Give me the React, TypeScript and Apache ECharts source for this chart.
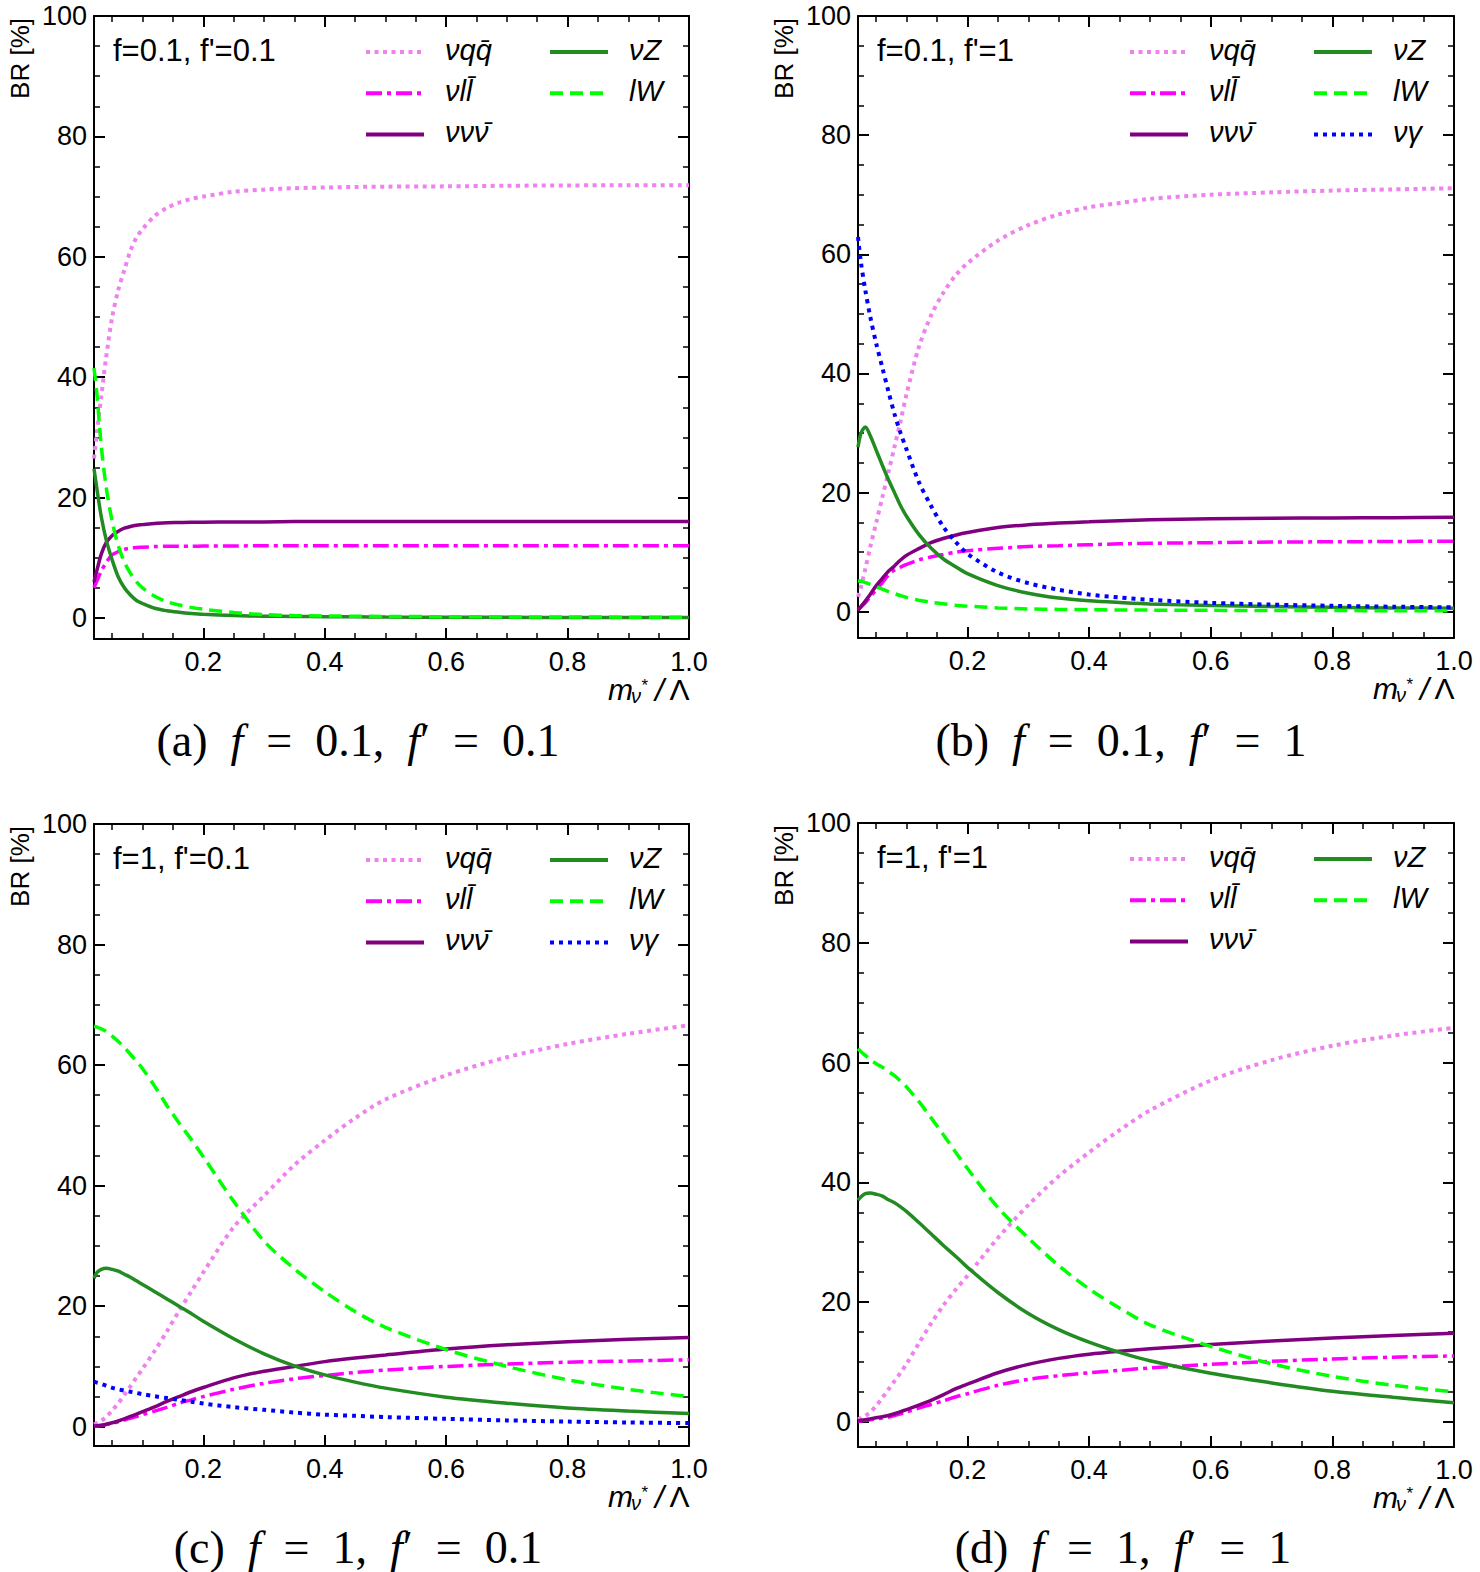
import React, { useEffect, useRef } from "react";
import * as echarts from "echarts";

// Heavy-neutrino mass over the compositeness scale
const MASS = [0.02, 0.025, 0.032, 0.04, 0.05, 0.06, 0.07, 0.08, 0.09, 0.1, 0.12, 0.14, 0.16, 0.18, 0.2, 0.25, 0.3, 0.35, 0.4, 0.45, 0.5, 0.6, 0.7, 0.8, 0.9, 1.0];

// (a) f = 0.1, f' = 0.1  — branching ratios in %
const A_NUQQ = [26.5, 31, 36.8, 43.3, 50.0, 54.5, 57.8, 61.0, 63.2, 64.6, 66.8, 68.1, 69.0, 69.6, 70.0, 70.8, 71.15, 71.4, 71.5, 71.6, 71.65, 71.7, 71.8, 71.85, 71.9, 71.9];
const A_NULL = [5.0, 6.2, 7.8, 9.2, 10.5, 11.0, 11.4, 11.6, 11.7, 11.75, 11.85, 11.9, 11.9, 11.9, 11.95, 11.95, 12, 12, 12, 12, 12, 12, 12, 12, 12, 12];
const A_NUNUNU = [6.0, 8.0, 10.6, 12.5, 13.7, 14.4, 14.9, 15.2, 15.4, 15.5, 15.7, 15.8, 15.85, 15.9, 15.9, 15.95, 15.95, 16, 16, 16, 16, 16, 16, 16, 16, 16];
const A_NUZ = [24.8, 21.3, 16.8, 13.0, 9.6, 6.8, 5.0, 3.8, 2.9, 2.4, 1.6, 1.2, 0.95, 0.75, 0.6, 0.4, 0.3, 0.25, 0.2, 0.18, 0.15, 0.12, 0.1, 0.08, 0.07, 0.06];
const A_LW = [41.5, 37.0, 28.5, 21.8, 16.0, 12.0, 9.3, 7.4, 6.0, 5.0, 3.6, 2.7, 2.15, 1.75, 1.45, 0.9, 0.55, 0.4, 0.33, 0.28, 0.25, 0.2, 0.17, 0.15, 0.13, 0.12];

// (b) f = 0.1, f' = 1
const B_NUQQ = [2.5, 4.2, 7.2, 10.8, 15.0, 19.2, 23.4, 27.7, 32.0, 36.6, 44.4, 49.7, 53.5, 56.4, 58.5, 62.3, 64.9, 66.7, 67.9, 68.6, 69.3, 70.0, 70.4, 70.7, 70.9, 71.1];
const B_NULL = [0.3, 0.8, 1.5, 2.5, 3.7, 4.9, 6.2, 7.0, 7.5, 7.95, 8.7, 9.2, 9.6, 10.0, 10.25, 10.65, 10.95, 11.1, 11.25, 11.4, 11.5, 11.6, 11.7, 11.75, 11.8, 11.85];
const B_NUNUNU = [0.3, 0.9, 1.8, 2.9, 4.4, 5.6, 6.8, 7.7, 8.7, 9.5, 10.6, 11.6, 12.3, 12.85, 13.3, 14.15, 14.6, 14.9, 15.1, 15.3, 15.45, 15.6, 15.7, 15.75, 15.8, 15.85];
const B_NUZ = [27.6, 30.0, 31.0, 29.6, 27.1, 24.6, 22.2, 20.0, 17.8, 16.0, 13.0, 10.7, 8.9, 7.6, 6.4, 4.4, 3.1, 2.3, 1.85, 1.55, 1.3, 1.05, 0.9, 0.75, 0.65, 0.6];
const B_LW = [5.2, 5.1, 4.9, 4.6, 4.2, 3.8, 3.4, 3.05, 2.7, 2.4, 1.95, 1.6, 1.35, 1.1, 0.95, 0.65, 0.48, 0.4, 0.35, 0.3, 0.28, 0.24, 0.22, 0.2, 0.19, 0.18];
const B_NUGAMMA = [62.9, 58.5, 54.0, 49.6, 45.0, 41.0, 37.0, 33.2, 30.0, 27.2, 21.8, 17.8, 14.3, 11.8, 9.75, 6.6, 4.8, 3.7, 2.9, 2.4, 2.0, 1.5, 1.2, 1.0, 0.85, 0.75];

// (c) f = 1, f' = 0.1
const C_NUQQ = [0.4, 0.6, 1.0, 1.6, 2.7, 3.9, 5.3, 6.7, 8.2, 9.6, 12.6, 15.8, 19.2, 22.4, 25.6, 33.1, 38.3, 43.4, 47.5, 51.2, 54.3, 58.3, 61.3, 63.5, 65.2, 66.6];
const C_NULL = [0.05, 0.1, 0.2, 0.35, 0.55, 0.8, 1.1, 1.4, 1.7, 2.0, 2.6, 3.2, 3.9, 4.45, 5.0, 6.2, 7.2, 7.95, 8.5, 9.0, 9.4, 10.0, 10.4, 10.7, 10.9, 11.1];
const C_NUNUNU = [0.1, 0.15, 0.25, 0.4, 0.65, 0.95, 1.3, 1.7, 2.1, 2.5, 3.3, 4.2, 5.0, 5.8, 6.5, 8.1, 9.2, 10.0, 10.8, 11.4, 11.9, 12.9, 13.6, 14.1, 14.5, 14.8];
const C_NUZ = [24.6, 25.6, 26.1, 26.3, 26.1, 25.8, 25.3, 24.8, 24.2, 23.6, 22.4, 21.2, 20.0, 18.8, 17.5, 14.6, 12.1, 10.1, 8.6, 7.4, 6.4, 4.9, 3.9, 3.1, 2.6, 2.2];
const C_LW = [66.4, 66.3, 66.0, 65.6, 64.8, 63.9, 62.9, 61.8, 60.6, 59.4, 56.5, 53.3, 50.4, 47.7, 44.8, 37.4, 30.8, 26.2, 22.4, 19.1, 16.5, 12.8, 10.0, 7.8, 6.2, 5.0];
const C_NUGAMMA = [7.5, 7.3, 7.1, 6.8, 6.45, 6.2, 6.0, 5.8, 5.6, 5.4, 5.05, 4.75, 4.45, 4.15, 3.85, 3.25, 2.8, 2.35, 2.0, 1.8, 1.6, 1.3, 1.05, 0.85, 0.7, 0.6];

// (d) f = 1, f' = 1
const D_NUQQ = [0.4, 0.65, 1.0, 1.6, 2.7, 4.0, 5.4, 6.8, 8.2, 9.7, 13.1, 16.4, 19.4, 22.0, 24.4, 30.7, 36.2, 41.0, 45.0, 48.7, 52.0, 57.0, 60.4, 62.8, 64.5, 65.8];
const D_NULL = [0.1, 0.15, 0.25, 0.35, 0.5, 0.65, 0.8, 1.05, 1.35, 1.65, 2.3, 2.9, 3.5, 4.15, 4.7, 6.1, 7.1, 7.7, 8.2, 8.6, 9.0, 9.6, 10.1, 10.5, 10.8, 11.0];
const D_NUNUNU = [0.2, 0.25, 0.35, 0.5, 0.7, 0.85, 1.05, 1.35, 1.7, 2.05, 2.8, 3.6, 4.5, 5.5, 6.3, 8.2, 9.6, 10.6, 11.3, 11.8, 12.2, 12.9, 13.5, 14.0, 14.4, 14.8];
const D_NUZ = [37.0, 37.6, 38.1, 38.2, 38.0, 37.7, 37.1, 36.6, 35.9, 35.1, 33.3, 31.4, 29.5, 27.7, 25.8, 21.6, 18.1, 15.4, 13.3, 11.6, 10.2, 8.1, 6.5, 5.1, 4.1, 3.2];
const D_LW = [62.3, 61.8, 61.2, 60.5, 59.8, 59.2, 58.5, 57.8, 56.9, 55.9, 53.5, 50.8, 48.0, 45.1, 42.3, 35.8, 30.7, 26.1, 22.2, 19.0, 16.2, 12.6, 9.7, 7.6, 6.1, 5.0];

// Axis ticks
const X_TICKS = [0.2, 0.4, 0.6, 0.8, 1.0];
const X_MINOR = [0.05, 0.1, 0.15, 0.25, 0.3, 0.35, 0.45, 0.5, 0.55, 0.65, 0.7, 0.75, 0.85, 0.9, 0.95];
const Y_TICKS = [0, 20, 40, 60, 80, 100];
const Y_MINOR = [5, 10, 15, 25, 30, 35, 45, 50, 55, 65, 70, 75, 85, 90, 95];

const SANS = "'Liberation Sans', Arial, Helvetica, sans-serif";
const SERIF = "'Liberation Serif', 'Times New Roman', serif";

type ChannelKey = "qq" | "ll" | "nn" | "z" | "w" | "g";

const CHANNELS: Record<ChannelKey, { name: string; color: string; width: number; dash: number[] | null }> = {
  qq: { name: "\u03bdqq\u0304", color: "#EE82EE", width: 4, dash: [4, 4.5] },
  ll: { name: "\u03bdll\u0304", color: "#FF00FF", width: 3.5, dash: [16, 5, 4, 5] },
  nn: { name: "\u03bd\u03bd\u03bd\u0304", color: "#800080", width: 3.5, dash: null },
  z: { name: "\u03bdZ", color: "#228B22", width: 3.5, dash: null },
  w: { name: "lW", color: "#00FF00", width: 3.5, dash: [13, 7] },
  g: { name: "\u03bd\u03b3", color: "#0000FF", width: 4, dash: [4, 5] },
};

type Panel = {
  left: number;
  top: number;
  width: number;
  height: number;
  yMin: number;
  tag: string;
  letter: string;
  fVal: string;
  fpVal: string;
  capX: number;
  capY: number;
  data: Partial<Record<ChannelKey, number[]>>;
  legend: ChannelKey[][];
};

const PANELS: Panel[] = [
  {
    left: 94, top: 16, width: 595, height: 623, yMin: -3.5,
    tag: "f=0.1, f'=0.1", letter: "a", fVal: "0.1", fpVal: "0.1", capX: 358, capY: 740,
    data: { qq: A_NUQQ, ll: A_NULL, nn: A_NUNUNU, z: A_NUZ, w: A_LW },
    legend: [["qq", "ll", "nn"], ["z", "w"]],
  },
  {
    left: 858, top: 16, width: 596, height: 622, yMin: -4.4,
    tag: "f=0.1, f'=1", letter: "b", fVal: "0.1", fpVal: "1", capX: 1121, capY: 740,
    data: { qq: B_NUQQ, ll: B_NULL, nn: B_NUNUNU, z: B_NUZ, w: B_LW, g: B_NUGAMMA },
    legend: [["qq", "ll", "nn"], ["z", "w", "g"]],
  },
  {
    left: 94, top: 824, width: 595, height: 622, yMin: -3.2,
    tag: "f=1, f'=0.1", letter: "c", fVal: "1", fpVal: "0.1", capX: 358, capY: 1547,
    data: { qq: C_NUQQ, ll: C_NULL, nn: C_NUNUNU, z: C_NUZ, w: C_LW, g: C_NUGAMMA },
    legend: [["qq", "ll", "nn"], ["z", "w", "g"]],
  },
  {
    left: 858, top: 823, width: 596, height: 624, yMin: -4.2,
    tag: "f=1, f'=1", letter: "d", fVal: "1", fpVal: "1", capX: 1123, capY: 1547,
    data: { qq: D_NUQQ, ll: D_NULL, nn: D_NUNUNU, z: D_NUZ, w: D_LW },
    legend: [["qq", "ll", "nn"], ["z", "w"]],
  },
];

const SERIES_ORDER: ChannelKey[] = ["qq", "ll", "nn", "z", "w", "g"];

function textEl(x: number, y: number, text: string, font: string, align = "left") {
  return {
    type: "text", x, y,
    style: { text, fill: "#000", font, textAlign: align, textVerticalAlign: "middle" },
  };
}

function buildOption() {
  const grid: any[] = [];
  const xAxis: any[] = [];
  const yAxis: any[] = [];
  const series: any[] = [];
  const elements: any[] = [];

  const majorTick = (values: number[]) => ({
    show: true, inside: true, length: 11, customValues: values,
    lineStyle: { color: "#000", width: 2 },
  });
  const minorTick = (values: number[]) => ({
    show: true, inside: true, length: 6, customValues: values,
    lineStyle: { color: "#000", width: 1.5 },
  });
  const frameLine = { show: true, onZero: false, lineStyle: { color: "#000", width: 2 } };
  const noLine = { show: false, onZero: false };

  PANELS.forEach((p, i) => {
    const rect = { left: p.left, top: p.top, width: p.width, height: p.height };
    grid.push({ ...rect }, { ...rect });
    const gMain = 2 * i;
    const gMinor = 2 * i + 1;
    const right = p.left + p.width;
    const bottom = p.top + p.height;

    const xBase = { type: "value", min: MASS[0], max: 1.0, splitLine: { show: false } };
    const yBase = { type: "value", min: p.yMin, max: 100, splitLine: { show: false } };

    xAxis.push(
      {
        ...xBase, gridIndex: gMain, position: "bottom", axisLine: frameLine,
        axisTick: majorTick(X_TICKS),
        axisLabel: {
          customValues: X_TICKS, margin: 9, color: "#000", fontSize: 27, fontFamily: SANS,
          formatter: (v: number) => v.toFixed(1),
        },
      },
      { ...xBase, gridIndex: gMain, position: "top", axisLine: frameLine, axisTick: majorTick(X_TICKS), axisLabel: { show: false } },
      { ...xBase, gridIndex: gMinor, position: "bottom", axisLine: noLine, axisTick: minorTick(X_MINOR), axisLabel: { show: false } },
      { ...xBase, gridIndex: gMinor, position: "top", axisLine: noLine, axisTick: minorTick(X_MINOR), axisLabel: { show: false } },
    );
    yAxis.push(
      {
        ...yBase, gridIndex: gMain, position: "left", axisLine: frameLine,
        axisTick: majorTick(Y_TICKS),
        axisLabel: {
          customValues: Y_TICKS, margin: 7, color: "#000", fontSize: 27, fontFamily: SANS,
          formatter: (v: number) => String(Math.round(v)),
        },
      },
      { ...yBase, gridIndex: gMain, position: "right", axisLine: frameLine, axisTick: majorTick(Y_TICKS), axisLabel: { show: false } },
      { ...yBase, gridIndex: gMinor, position: "left", axisLine: noLine, axisTick: minorTick(Y_MINOR), axisLabel: { show: false } },
      { ...yBase, gridIndex: gMinor, position: "right", axisLine: noLine, axisTick: minorTick(Y_MINOR), axisLabel: { show: false } },
    );

    SERIES_ORDER.forEach((key) => {
      const values = p.data[key];
      if (!values) return;
      const ch = CHANNELS[key];
      series.push({
        type: "line",
        name: ch.name,
        xAxisIndex: 4 * i,
        yAxisIndex: 4 * i,
        data: MASS.map((m, k) => [m, values[k]]),
        symbol: "none",
        showSymbol: false,
        smooth: 0.3,
        silent: true,
        lineStyle: { color: ch.color, width: ch.width, type: ch.dash ?? "solid", cap: "butt" },
      });
    });

    // Coupling tag in the upper-left corner
    elements.push(textEl(p.left + 19, p.top + 34.5, p.tag, `31px ${SANS}`));

    // Legend: two columns of line samples with italic labels
    p.legend.forEach((col, c) => {
      const lx = p.left + (c === 0 ? 272 : 456);
      col.forEach((key, r) => {
        const ch = CHANNELS[key];
        const ly = p.top + 36 + r * 41.2;
        elements.push({
          type: "line",
          shape: { x1: lx, y1: ly, x2: lx + 58, y2: ly },
          style: { stroke: ch.color, lineWidth: 4, lineDash: ch.dash ?? undefined, lineCap: "butt" },
        });
        elements.push(textEl(lx + 79, ly - 2, ch.name, `italic 29px ${SANS}`));
      });
    });

    // Y-axis title
    elements.push({
      type: "text", x: p.left - 74, y: p.top + 2, rotation: Math.PI / 2,
      style: { text: "BR [%]", fill: "#000", font: `26px ${SANS}`, textAlign: "right", textVerticalAlign: "middle" },
    });

    // X-axis title m_{nu*}/Lambda, set piece by piece
    elements.push(
      textEl(right - 56, bottom + 50.6, "m", `italic 30px ${SANS}`, "right"),
      textEl(right - 58, bottom + 57.4, "\u03bd", `italic 20px ${SANS}`),
      textEl(right - 47.5, bottom + 46.5, "*", `17px ${SANS}`),
      textEl(right - 34, bottom + 50.6, "/", `italic 32px ${SANS}`),
      textEl(right + 0.5, bottom + 50.6, "\u039b", `30px ${SANS}`, "right"),
    );

    // Sub-figure caption
    const sp = "\u2002";
    elements.push({
      type: "text", x: p.capX, y: p.capY,
      style: {
        text: `{n|(${p.letter})  }{i|f}{n|${sp}=${sp}${p.fVal},  }{i|f}{n|\u2032${sp}=${sp}${p.fpVal}}`,
        fill: "#000", fontSize: 46, fontFamily: SERIF,
        textAlign: "center", textVerticalAlign: "middle",
        rich: {
          n: { fontSize: 46, fontFamily: SERIF },
          i: { fontSize: 46, fontFamily: SERIF, fontStyle: "italic" },
        },
      },
    });
  });

  return {
    animation: false,
    backgroundColor: "#ffffff",
    grid,
    xAxis,
    yAxis,
    series,
    graphic: { elements },
  };
}

export default function App() {
  const ref = useRef<HTMLDivElement | null>(null);

  useEffect(() => {
    if (!ref.current) return;
    const chart = echarts.init(ref.current, null, { renderer: "svg" });
    chart.setOption(buildOption() as any);
    return () => chart.dispose();
  }, []);

  return (
    <div
      ref={ref}
      style={{ position: "absolute", left: 0, top: 0, width: 1480, height: 1572, background: "#fff" }}
    />
  );
}
